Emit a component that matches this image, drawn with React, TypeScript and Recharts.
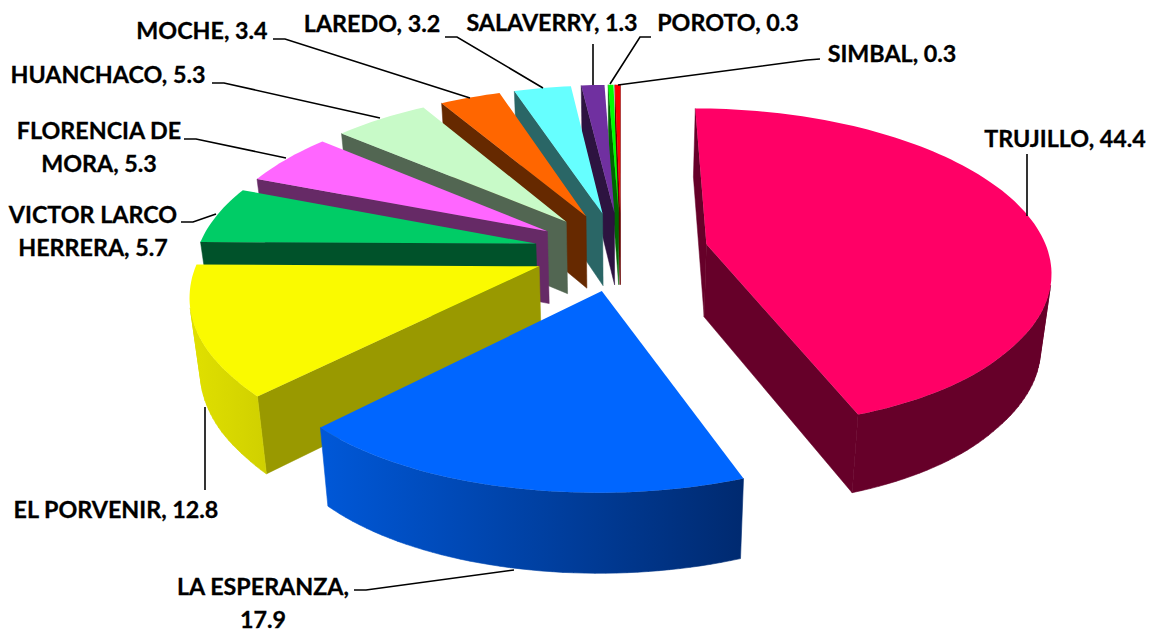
import { PieChart, Pie } from 'recharts'

const NAMES = ['TRUJILLO', 'LA ESPERANZA', 'EL PORVENIR', 'VICTOR LARCO HERRERA', 'FLORENCIA DE MORA', 'HUANCHACO', 'MOCHE', 'LAREDO', 'SALAVERRY', 'POROTO', 'SIMBAL']
const VALUES = [44.4, 17.9, 12.8, 5.7, 5.3, 5.3, 3.4, 3.2, 1.3, 0.3, 0.3]
const TOP_COLORS = ['#ff0066', '#0066ff', '#fafa00', '#00cc66', '#ff66ff', '#c8fac8', '#ff6600', '#66ffff', '#7030a0', '#00ff00', '#ff0000']
const SIDE_COLORS = ['#660029', '#002a66', '#999900', '#00522a', '#662a66', '#526652', '#662900', '#2a6666', '#2d1340', '#006600', '#660000']
const RIM_LEFT = ['#660029', '#0058d8', '#e0e000', '#00a050', '#c050c0', '#a0c8a0', '#c85000', '#50c8c8', '#582880', '#00c800', '#c80000']
const RIM_RIGHT = ['#660029', '#002a70', '#d0d000', '#007a3c', '#a040a0', '#80a080', '#a04000', '#40a0a0', '#482070', '#00a000', '#a00000']

// drawn back to front, so the pie runs counter-clockwise from the small slices
const rows = NAMES.map((name, i) => ({
  name,
  value: VALUES[i],
  fill: TOP_COLORS[i],
  side: SIDE_COLORS[i],
  rimLeft: RIM_LEFT[i],
  rimRight: RIM_RIGHT[i],
  idx: i,
})).reverse()

const CX = 621
const CY = 251
const RADIUS = 349
const SQUASH = 0.4527
const PERSPECTIVE = 0.15
const EXPLODE = 0.25
const BOTTOM_SHRINK = 0.975
const RIM_PINCH_LEFT = 0.03
const RIM_PINCH_RIGHT = 0.022

const LABELS: Record<string, { lines: string[]; x: number; y: number; leader: number[][] }> = {
  TRUJILLO: { lines: ['TRUJILLO, 44.4'], x: 1065, y: 147, leader: [[1027, 154], [1027, 216]] },
  'LA ESPERANZA': { lines: ['LA ESPERANZA,', '17.9'], x: 263, y: 595, leader: [[354, 590], [366, 590], [514, 570]] },
  'EL PORVENIR': { lines: ['EL PORVENIR, 12.8'], x: 116, y: 518, leader: [[205, 490], [205, 407]] },
  'VICTOR LARCO HERRERA': { lines: ['VICTOR LARCO', 'HERRERA, 5.7'], x: 93, y: 223, leader: [[181, 222], [193, 222], [216, 214]] },
  'FLORENCIA DE MORA': { lines: ['FLORENCIA DE', 'MORA, 5.3'], x: 99, y: 139, leader: [[184, 139], [196, 139], [286, 158]] },
  HUANCHACO: { lines: ['HUANCHACO, 5.3'], x: 108, y: 83, leader: [[212, 83], [224, 83], [380, 118]] },
  MOCHE: { lines: ['MOCHE, 3.4'], x: 202, y: 39, leader: [[273, 39], [285, 39], [470, 98]] },
  LAREDO: { lines: ['LAREDO, 3.2'], x: 372, y: 32, leader: [[445, 37], [457, 37], [543, 88]] },
  SALAVERRY: { lines: ['SALAVERRY, 1.3'], x: 552, y: 31, leader: [[593, 44], [593, 85]] },
  POROTO: { lines: ['POROTO, 0.3'], x: 728, y: 31, leader: [[651, 37], [640, 37], [610, 84]] },
  SIMBAL: { lines: ['SIMBAL, 0.3'], x: 892, y: 62, leader: [[820, 59], [807, 60], [618, 85]] },
}

const rad = (d: number) => (d * Math.PI) / 180

// pie plane to screen, u to the right and v towards the viewer, in radius units
function topPoint(cx: number, cy: number, r: number, u: number, v: number) {
  const k = 1 / (1 - PERSPECTIVE * v)
  return [cx + u * r * k, cy + v * r * SQUASH * k, k]
}

function bottomPoint(cx: number, cy: number, r: number, u: number, v: number) {
  const [x, y, k] = topPoint(cx, cy, r, u, v)
  return [cx + (x - cx) * BOTTOM_SHRINK, y + 40 + 33 * k]
}

const toPath = (pts: number[][]) => 'M' + pts.map((p) => `${p[0].toFixed(1)},${p[1].toFixed(1)}`).join('L') + 'Z'

function signedArea(pts: number[][]) {
  let sum = 0
  pts.forEach((p, i) => {
    const q = pts[(i + 1) % pts.length]
    sum += p[0] * q[1] - q[0] * p[1]
  })
  return sum / 2
}

// the picture's outline is a little narrower than a true circle, except at the front
function rimPinch(a: number) {
  const c2 = Math.cos(a) * Math.cos(a)
  const s = Math.sin(a) > 0 ? 1 : Math.min(1, Math.max(0, 2 * c2 - 0.2))
  return 1 - (Math.cos(a) > 0 ? RIM_PINCH_RIGHT : RIM_PINCH_LEFT) * s
}

function Slice3D(props: any) {
  const { cx, cy, outerRadius, startAngle, endAngle, midAngle, fill, side, rimLeft, rimRight, idx } = props
  const ou = EXPLODE * Math.cos(rad(midAngle))
  const ov = -EXPLODE * Math.sin(rad(midAngle))

  const arc: number[][] = []
  const steps = Math.max(2, Math.ceil(Math.abs(endAngle - startAngle) / 1.5))
  for (let i = 0; i <= steps; i++) {
    const a = rad(startAngle + ((endAngle - startAngle) * i) / steps)
    arc.push([ou + Math.cos(a) * rimPinch(a), ov - Math.sin(a)])
  }
  const top = (p: number[]) => topPoint(cx, cy, outerRadius, p[0], p[1])
  const bot = (p: number[]) => bottomPoint(cx, cy, outerRadius, p[0], p[1])
  const apex = [ou, ov]
  const outline = [apex, ...arc]
  const facing = Math.sign(signedArea(outline.map(top)))

  // a wall shows only when its lower edge falls outside the top face
  const quad = (a: number[], b: number[]) => [top(a), top(b), bot(b), bot(a)]
  const visible = (a: number[], b: number[]) => Math.sign(signedArea(quad(a, b))) !== facing

  const rimPath = arc
    .slice(0, -1)
    .map((p, i) => (visible(p, arc[i + 1]) ? toPath(quad(p, arc[i + 1])) : ''))
    .join('')
  const walls = [
    [apex, arc[0]],
    [arc[arc.length - 1], apex],
  ].filter(([a, b]) => visible(a, b))
  const gradId = `rim-${idx}`

  return (
    <g>
      <defs>
        <linearGradient id={gradId} x1="0" y1="0" x2="1" y2="0">
          <stop offset="0%" stopColor={rimLeft} />
          <stop offset="100%" stopColor={rimRight} />
        </linearGradient>
      </defs>
      {walls.map(([a, b], i) => (
        <path key={i} d={toPath(quad(a, b))} fill={side} stroke={side} strokeWidth={0.5} />
      ))}
      {rimPath && <path d={rimPath} fill={`url(#${gradId})`} stroke={`url(#${gradId})`} strokeWidth={0.6} />}
      <path d={toPath(outline.map(top))} fill={fill} />
    </g>
  )
}

function SliceLabel(props: any) {
  const layout = LABELS[props.name]
  if (!layout) return null
  return (
    <g>
      <polyline
        points={layout.leader.map((p) => p.join(',')).join(' ')}
        fill="none"
        stroke="#000000"
        strokeWidth={1.6}
      />
      {layout.lines.map((line, i) => (
        <text
          key={i}
          x={layout.x}
          y={layout.y + i * 32.5}
          textAnchor="middle"
          fontFamily="Lato, sans-serif"
          fontWeight={700}
          fontSize={23.3}
          stroke="#000000"
          strokeWidth={0.3}
          fill="#000000"
        >
          {line}
        </text>
      ))}
    </g>
  )
}

export default function App() {
  return (
    <div style={{ position: 'absolute', left: 0, top: 0, width: 1153, height: 632 }}>
      <PieChart width={1153} height={632} margin={{ top: 0, right: 0, bottom: 0, left: 0 }}>
        <Pie
          data={rows}
          dataKey="value"
          nameKey="name"
          cx={CX}
          cy={CY}
          innerRadius={0}
          outerRadius={RADIUS}
          startAngle={90}
          endAngle={450}
          stroke="none"
          shape={Slice3D}
          label={SliceLabel}
          labelLine={false}
          isAnimationActive={false}
        />
      </PieChart>
    </div>
  )
}
